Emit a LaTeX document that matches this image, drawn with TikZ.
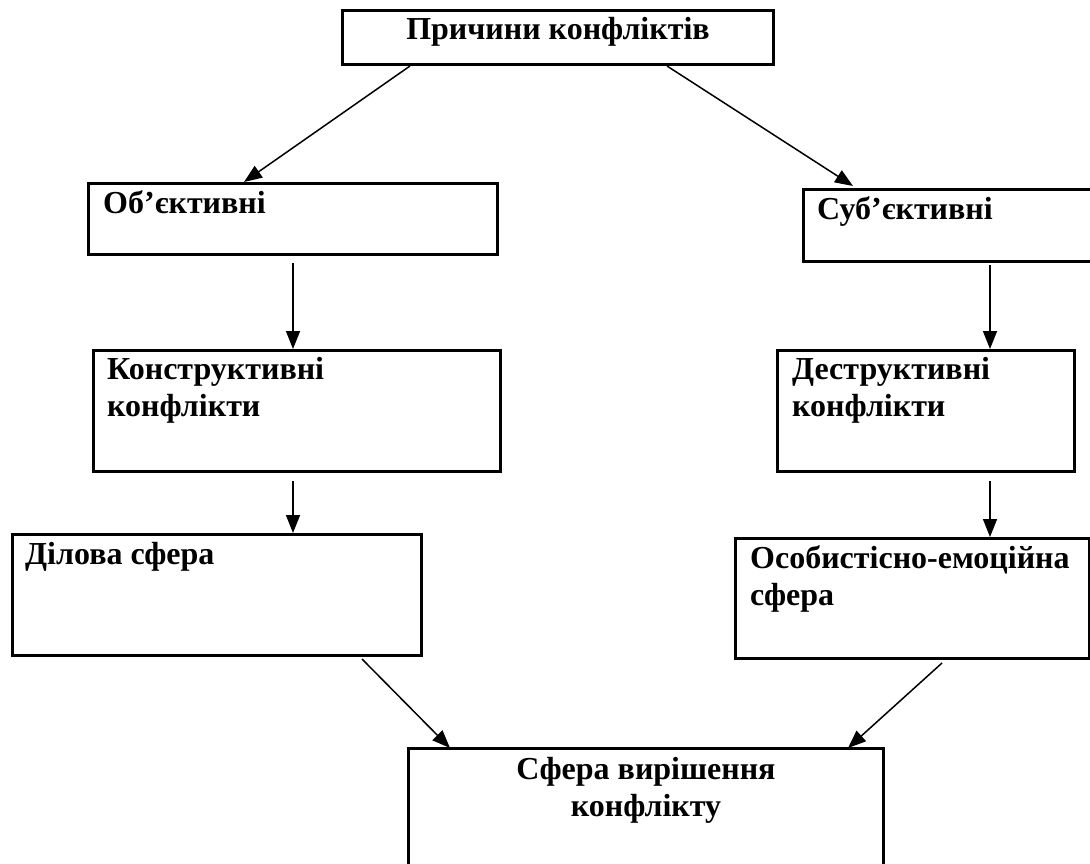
\documentclass[tikz,border=0pt]{standalone}
\usepackage{fontspec}
\setmainfont{Liberation Serif}
\usetikzlibrary{arrows.meta,calc}
\tikzset{
  box/.style={draw, line width=3pt, inner sep=0pt, anchor=north west},
  lbl/.style={font=\fontsize{32}{37}\selectfont\bfseries, inner sep=0pt, anchor=base west},
  clbl/.style={font=\fontsize{32}{37}\selectfont\bfseries, inner sep=0pt, anchor=base, align=center},
  arr/.style={line width=1.5pt, -{Triangle[length=18pt,width=14pt]}}
}
\begin{document}
\begin{tikzpicture}[x=1pt,y=-1pt]
\useasboundingbox (0,0) rectangle (1090,864);
\clip (0,0) rectangle (1090,864);
\fill[white] (0,0) rectangle (1090,864);
% boxes
\node[box, minimum width=431pt, minimum height=54pt] (top) at (341,9) {};
\node[box, minimum width=409pt, minimum height=71pt] (obj) at (87,182) {};
\node[box, minimum width=300pt, minimum height=72pt] (sub) at (802,188) {};
\node[box, minimum width=407pt, minimum height=121pt] (kon) at (92,349) {};
\node[box, minimum width=297pt, minimum height=121pt] (des) at (776,349) {};
\node[box, minimum width=409pt, minimum height=121pt] (dil) at (11,533) {};
\node[box, minimum width=354pt, minimum height=120pt] (oso) at (734,537) {};
\node[box, minimum width=475pt, minimum height=140pt] (res) at (407,747) {};
% texts
\node[clbl] (ttop) at ($(top.north)+(0,31)$) {Причини конфліктів};
\node[lbl] (tobj) at ($(obj.north west)+(16,31)$) {Об’єктивні};
\node[lbl] (tsub) at ($(sub.north west)+(15,31)$) {Суб’єктивні};
\node[lbl] (tkon1) at ($(kon.north west)+(15,30)$) {Конструктивні};
\node[lbl] (tkon2) at ($(kon.north west)+(15,67)$) {конфлікти};
\node[lbl] (tdes1) at ($(des.north west)+(16,30)$) {Деструктивні};
\node[lbl] (tdes2) at ($(des.north west)+(16,67)$) {конфлікти};
\node[lbl] (tdil) at ($(dil.north west)+(14,31)$) {Ділова сфера};
\node[lbl] (toso1) at ($(oso.north west)+(16,31)$) {Особистісно-емоційна};
\node[lbl] (toso2) at ($(oso.north west)+(16,68)$) {сфера};
\node[clbl] (tres1) at ($(res.north)+(0,32)$) {Сфера вирішення};
\node[clbl] (tres2) at ($(res.north)+(0,69)$) {конфлікту};
% connectors
\draw[arr] ($(top.south west)+(69,0)$) -- ($(obj.north west)+(157,0)$);
\draw[arr] ($(top.south west)+(326,0)$) -- ($(sub.north west)+(51,-2)$);
\draw[arr] ($(obj.south west)+(206,7)$) -- ($(kon.north west)+(201,0)$);
\draw[arr] ($(sub.south west)+(188,2)$) -- ($(des.north west)+(214,0)$);
\draw[arr] ($(kon.south west)+(201,8)$) -- ($(dil.north west)+(282,0)$);
\draw[arr] ($(des.south west)+(214,8)$) -- ($(oso.north west)+(256,0)$);
\draw[arr] ($(dil.south west)+(351,2)$) -- ($(res.north west)+(43,1)$);
\draw[arr] ($(oso.south west)+(208,3)$) -- ($(res.north west)+(441,1)$);
\end{tikzpicture}
\end{document}
